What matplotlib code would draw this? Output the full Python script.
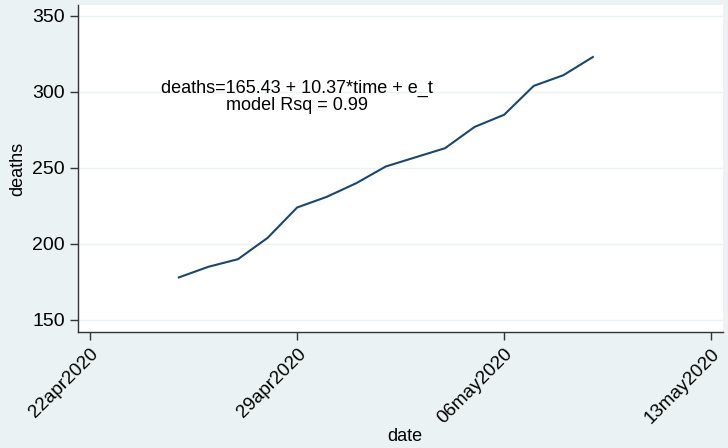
import matplotlib
matplotlib.use("Agg")
import matplotlib.pyplot as plt
import matplotlib.dates as mdates
import numpy as np

plt.rcParams['font.family'] = ['Liberation Sans', 'DejaVu Sans']

# daily deaths, 25apr2020 .. 09may2020
dates = np.arange(np.datetime64('2020-04-25'), np.datetime64('2020-05-10'))
deaths = [178, 185, 190, 204, 224, 231, 240, 251, 257, 263, 277, 285, 304, 311, 323]
tick_dates = np.array(['2020-04-22', '2020-04-29', '2020-05-06', '2020-05-13'], dtype='datetime64[D]')
y_ticks = [150, 200, 250, 300, 350]
note = "deaths=165.43 + 10.37*time + e_t\nmodel Rsq = 0.99"

bg = "#eaf2f3"
fig = plt.figure(figsize=(7.28, 4.48), dpi=100, facecolor=bg)
ax = fig.add_axes([78 / 728, 116 / 448, 645 / 728, 327 / 448])
ax.set_facecolor("white")

ax.plot(dates.astype(object), deaths, color="#1a476f", lw=1.5)

ax.set_ylim(142.1, 357.2)
ax.set_yticks(y_ticks)
ax.yaxis.grid(True, color=bg, lw=1)
ax.set_axisbelow(True)

x0 = mdates.date2num(np.datetime64('2020-04-22'))
ax.set_xlim(x0 - 0.41, x0 + 21.4)
ax.set_xticks(mdates.date2num(tick_dates))
ax.xaxis.set_major_formatter(plt.FuncFormatter(
    lambda v, p: mdates.num2date(v).strftime("%d%b%Y").lower()))

for s in ["top", "right"]:
    ax.spines[s].set_visible(False)
for s in ["left", "bottom"]:
    ax.spines[s].set_color("#333333")
    ax.spines[s].set_linewidth(1)

ax.tick_params(axis='both', labelsize=14, length=6, color="#333333", width=1)
ax.tick_params(axis='x', labelsize=13.5)
plt.setp(ax.get_xticklabels(), rotation=45, ha='right', rotation_mode='anchor')

ax.set_xlabel("date", fontsize=13)
ax.set_ylabel("deaths", fontsize=13)
ax.xaxis.set_label_coords(0.506, -0.321)
ax.yaxis.set_label_coords(-0.093, 0.5)
ax.xaxis.label.set_va('center')
ax.yaxis.label.set_va('center')

ax.text(mdates.date2num(np.datetime64('2020-04-29')), 297, note, ha='center', va='center',
        fontsize=13, linespacing=1.0)

fig.savefig("out.png", dpi=100, facecolor=bg)
